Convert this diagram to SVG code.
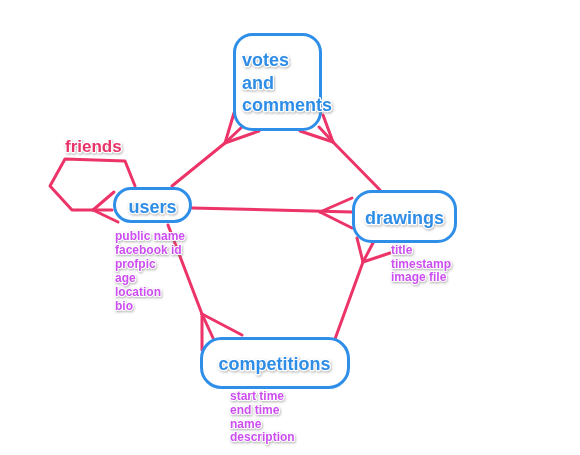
<svg xmlns="http://www.w3.org/2000/svg" width="580" height="455" viewBox="0 0 580 455">
<defs>
<filter id="sh" x="-10%" y="-30%" width="130%" height="170%">
<feDropShadow dx="0.8" dy="1.2" stdDeviation="0.9" flood-color="#777" flood-opacity="0.55"/>
</filter>
<style>
.conn line, .conn polyline { stroke:#ec3468; stroke-width:3; fill:none; stroke-linecap:round; stroke-linejoin:round; }
.box { fill:#fff; stroke:#2f8fe8; stroke-width:3; }
text { font-family:"Liberation Sans", Arial, sans-serif; font-weight:bold; paint-order:stroke; stroke:#fff; stroke-width:2.5; stroke-linejoin:round; filter:url(#sh); }
.title { font-size:18px; fill:#2f8de6; }
.rel { font-size:17px; fill:#e8336a; }
.attr { font-size:12px; fill:#cc4ef0; stroke-width:2; }
</style>
</defs>
<rect width="580" height="455" fill="#fff"/>
<g id="connectors" class="conn">
<!-- friends self loop -->
<polyline points="135,186 125,161 65,159 50,186 72,210 112,210"/>
<line x1="93" y1="210" x2="114" y2="192"/>
<line x1="93" y1="210" x2="118" y2="222"/>
<!-- users - votes -->
<line x1="172" y1="186" x2="225" y2="143"/>
<line x1="225" y1="143" x2="234" y2="113"/>
<line x1="225" y1="143" x2="243" y2="126"/>
<line x1="225" y1="143" x2="259" y2="131"/>
<!-- votes - drawings -->
<line x1="380" y1="190" x2="333" y2="142"/>
<line x1="333" y1="142" x2="323" y2="115"/>
<line x1="333" y1="142" x2="319" y2="127"/>
<line x1="333" y1="142" x2="300" y2="131"/>
<!-- users - drawings -->
<line x1="192" y1="208" x2="352" y2="212"/>
<line x1="320" y1="212" x2="352" y2="198"/>
<line x1="320" y1="212" x2="352" y2="228"/>
<!-- drawings - competitions -->
<line x1="335" y1="339" x2="363" y2="262"/>
<line x1="363" y1="262" x2="357" y2="238"/>
<line x1="363" y1="262" x2="373" y2="243"/>
<line x1="363" y1="262" x2="390" y2="253"/>
<!-- users - competitions -->
<line x1="168" y1="225" x2="202" y2="314"/>
<line x1="202" y1="314" x2="202" y2="350"/>
<line x1="202" y1="314" x2="213" y2="338"/>
<line x1="202" y1="314" x2="242" y2="335"/>
</g>
<g id="friends">
<text class="rel" x="65" y="152">friends</text>
</g>
<g id="users">
<rect class="box" x="114.5" y="188.5" width="76" height="33" rx="16.5"/>
<text class="title" x="152.5" y="213" text-anchor="middle">users</text>
<text class="attr" x="115" y="240">public name</text>
<text class="attr" x="115" y="254">facebook id</text>
<text class="attr" x="115" y="268">profpic</text>
<text class="attr" x="115" y="282">age</text>
<text class="attr" x="115" y="296">location</text>
<text class="attr" x="115" y="310">bio</text>
</g>
<g id="votes">
<rect class="box" x="234.5" y="34.5" width="86" height="95" rx="18"/>
<text class="title" x="242" y="66">votes</text>
<text class="title" x="242" y="88.5">and</text>
<text class="title" x="242" y="111">comments</text>
</g>
<g id="drawings">
<rect class="box" x="353.5" y="191.5" width="102" height="50" rx="18"/>
<text class="title" x="404.5" y="224" text-anchor="middle">drawings</text>
<text class="attr" x="391" y="253.5">title</text>
<text class="attr" x="391" y="267.5">timestamp</text>
<text class="attr" x="391" y="281">image file</text>
</g>
<g id="competitions">
<rect class="box" x="201.5" y="338.5" width="147" height="49" rx="20"/>
<text class="title" x="274.5" y="370" text-anchor="middle">competitions</text>
<text class="attr" x="230" y="399.5">start time</text>
<text class="attr" x="230" y="413.5">end time</text>
<text class="attr" x="230" y="427.5">name</text>
<text class="attr" x="230" y="441">description</text>
</g>
</svg>
